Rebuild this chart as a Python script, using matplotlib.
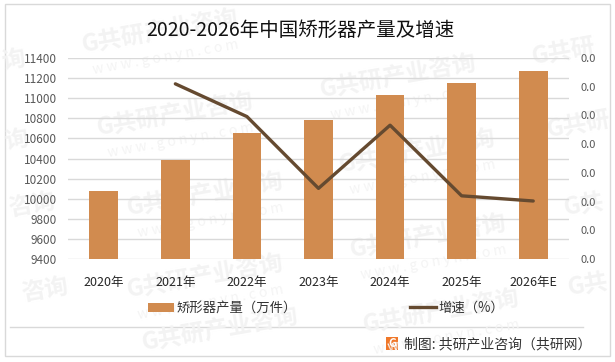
import matplotlib
matplotlib.use('Agg')
import matplotlib.pyplot as plt
from matplotlib.lines import Line2D
from matplotlib.patches import Patch, Rectangle

plt.rcParams['font.family'] = ['Noto Sans CJK SC', 'DejaVu Sans']

years = ['2020年', '2021年', '2022年', '2023年', '2024年', '2025年', '2026年E']
output = [10080, 10390, 10650, 10780, 11030, 11150, 11270]
growth = [None, 0.0305, 0.0248, 0.0123, 0.0233, 0.0110, 0.0101]
growth_ticks = [0, 0.005, 0.01, 0.015, 0.02, 0.025, 0.03, 0.035]

W, H = 615, 362
BAR = '#d18b4f'
LINE = '#654a30'
GRID = '#d9d9d9'
GRAY = '#595959'
MARK = '#f3f3f3'


def fx(px):
    return px / W


def fy(py):
    return 1 - py / H


fig = plt.figure(figsize=(W / 100, H / 100), dpi=100, facecolor='white')

# watermark, shortened strings at the edges so nothing runs off the canvas
wm = fig.add_axes([0, 0, 1, 1], zorder=-1)
wm.set_xlim(0, W)
wm.set_ylim(H, 0)
wm.axis('off')
full = 'G共研产业咨询'
url = 'w w w . g o n y n . c o m'
for cx, cy in [(160, 32), (175, 115), (398, 77), (205, 195), (205, 277),
               (417, 152), (428, 237), (441, 312)]:
    wm.text(cx, cy, full, fontsize=17, fontweight='bold', color=MARK, rotation=10,
            ha='center', va='center')
    wm.text(cx + 6, cy + 25, url, fontsize=10, color='#f4f4f4', rotation=10, ha='center', va='center')
wm.text(220, 330, full, fontsize=17, fontweight='bold', color=MARK, rotation=10, ha='center', va='center')
for ex, ey, s in [(27, 60, '询'), (30, 140, '询'), (57, 205, '咨询'), (70, 290, '咨询')]:
    wm.text(ex, ey, s, fontsize=17, fontweight='bold', color=MARK, rotation=10, ha='right', va='center')
for sx, sy, s in [(530, 52, 'G共研'), (545, 125, 'G共研'), (562, 205, 'G共'), (566, 285, 'G共')]:
    wm.text(sx, sy, s, fontsize=17, fontweight='bold', color=MARK, rotation=10, ha='left', va='center')

wm.add_patch(Rectangle((5, 4), 605, 352, fill=False, edgecolor=GRID, linewidth=1))
wm.plot([10, 583], [327, 327], color=GRID, linewidth=1)

ax = fig.add_axes([fx(68), fy(259), 501 / W, 201 / H], zorder=2)
ax.patch.set_alpha(0)
x = list(range(len(years)))
ax.bar(x, output, width=0.4, color=BAR, zorder=2)
ax.set_xlim(-0.5, 6.5)
ax.set_ylim(9400, 11400)
ax.set_yticks(range(9400, 11401, 200))
ax.set_xticks(x)
ax.set_xticklabels(years, fontsize=9, color='#262626')
ax.tick_params(axis='x', length=0, pad=12)
ax.tick_params(axis='y', length=0, pad=8, labelsize=8.5, labelcolor=GRAY)
ax.grid(axis='y', color=GRID, linewidth=1, zorder=1)
ax.set_axisbelow(True)
for s in ax.spines.values():
    s.set_visible(False)

ax2 = ax.twinx()
ax2.set_zorder(3)
ax2.plot(x[1:], growth[1:], color=LINE, linewidth=2.4, solid_capstyle='round', zorder=3)
ax2.set_ylim(0, 0.035)
ax2.set_yticks(growth_ticks)
ax2.set_yticklabels(['0.0'] * len(growth_ticks))
ax2.tick_params(axis='y', length=0, pad=8, labelsize=8, labelcolor=GRAY)
for s in ax2.spines.values():
    s.set_visible(False)

fig.text(fx(300), fy(30), '2020-2026年中国矫形器产量及增速', fontsize=14, color='#111111',
         ha='center', va='center')

handles = [Patch(facecolor=BAR, label='矫形器产量（万件）'),
           Line2D([0], [0], color=LINE, linewidth=2.4, label='增速（%）')]
fig.legend(handles=handles, loc='center', bbox_to_anchor=(fx(326), fy(308)), ncols=2, frameon=False,
           fontsize=9.6, labelcolor='#333333', columnspacing=8.5, handlelength=1.95, handletextpad=0.2)

# logo and source line
wm.add_patch(Rectangle((386, 337), 12, 13, facecolor='#f0782a', edgecolor='none'))
wm.text(392, 343.5, 'G', fontsize=8, fontweight='bold', color='white', ha='center', va='center')
fig.text(fx(404), fy(344), '制图: 共研产业咨询（共研网）', fontsize=10, color='#333333',
         ha='left', va='center')

fig.savefig('out.png', dpi=100)
